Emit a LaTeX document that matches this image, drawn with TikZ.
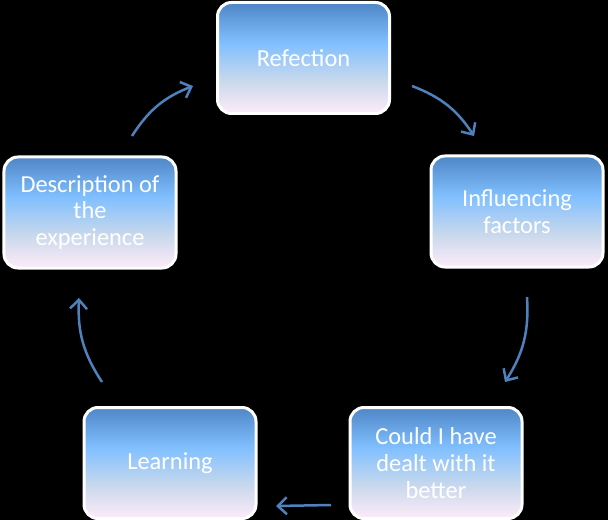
\documentclass[tikz,border=0pt]{standalone}
\usepackage{fontspec}
\setmainfont{Carlito}
\usetikzlibrary{arrows.meta}
\definecolor{arrowblue}{HTML}{4F81BD}
\definecolor{shtop}{HTML}{4F86C6}
\definecolor{shmid}{HTML}{80BFFF}
\definecolor{shlow}{HTML}{C8D8EC}
\definecolor{shbot}{HTML}{F7E9F7}
\pgfdeclareverticalshading{boxshade}{100bp}{color(0bp)=(shbot); color(27bp)=(shbot); color(40bp)=(shlow); color(57bp)=(shmid); color(75bp)=(shtop); color(100bp)=(shtop)}
\tikzset{
  stagebox/.style={draw=white, line width=3bp, rounded corners=14bp, shading=boxshade,
    minimum width=172bp, minimum height=111bp, text=white, align=flush center,
    font=\fontsize{24.5}{27}\selectfont, inner sep=0bp, text width=170bp},
  cyclearrow/.style={draw=arrowblue, line width=2.5bp, -{Straight Barb[length=9bp,width=17bp]}}
}
\begin{document}
\begin{tikzpicture}[x=1bp,y=-1bp]
\fill[black] (0,0) rectangle (608,520);
\useasboundingbox (0,0) rectangle (608,520);
\node[stagebox] (refl) at (303.5,58) {Refection};
\node[stagebox] (infl) at (517,211.5) {Influencing\\factors};
\node[stagebox] (could) at (436,463) {Could I have\\dealt with it\\better};
\node[stagebox] (learn) at (170,463) {Learning};
\node[stagebox] (desc) at (90,212.5) {Description of\\the\\experience};
\coordinate (a1s) at (132,136); \coordinate (a1e) at (193,86);
\coordinate (a2s) at (412,86); \coordinate (a2e) at (474,136);
\coordinate (a3s) at (527,297); \coordinate (a3e) at (505,382);
\coordinate (a4s) at (331,505); \coordinate (a4e) at (276,506);
\coordinate (a5s) at (102,382); \coordinate (a5e) at (79,298);
\draw[cyclearrow] (a1s) to[bend left=18] (a1e);
\draw[cyclearrow] (a2s) to[bend left=18] (a2e);
\draw[cyclearrow] (a3s) to[bend left=18] (a3e);
\draw[cyclearrow] (a4s) -- (a4e);
\draw[cyclearrow] (a5s) to[bend left=18] (a5e);
\end{tikzpicture}
\end{document}
